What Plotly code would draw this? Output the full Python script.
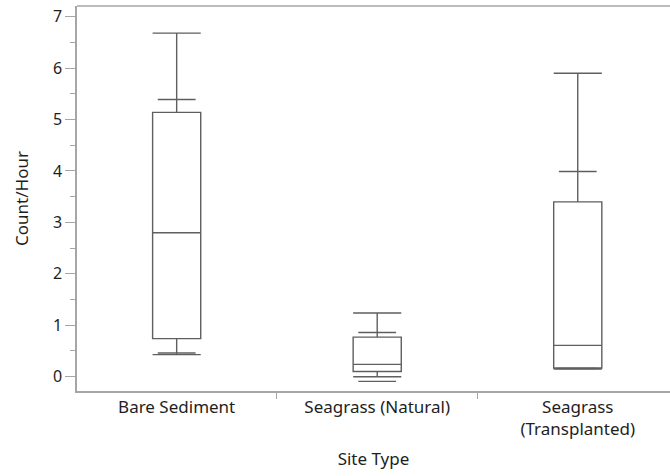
import plotly.graph_objects as go

categories = ["Bare Sediment", "Seagrass (Natural)", "Seagrass<br>(Transplanted)"]
q_min = [0.43, 0.0, 0.15]
q_p10 = [0.46, -0.09, 0.16]
q_q1 = [0.74, 0.10, 0.17]
q_med = [2.80, 0.24, 0.61]
q_q3 = [5.14, 0.77, 3.40]
q_p90 = [5.39, 0.86, 3.99]
q_max = [6.68, 1.24, 5.90]

line_col = "#5f5f5f"
axis_col = "#a6a6a6"
font_fam = "Noto Sans, Open Sans, sans-serif"

fig = go.Figure()
fig.add_trace(go.Box(
    x=categories, q1=q_q1, median=q_med, q3=q_q3,
    lowerfence=q_min, upperfence=q_max,
    width=0.24, whiskerwidth=1,
    fillcolor="rgba(0,0,0,0)",
    line=dict(color=line_col, width=1.4),
    boxpoints=False, hoverinfo="skip", showlegend=False,
))
fig.add_trace(go.Scatter(
    x=categories + categories, y=q_p10 + q_p90, mode="markers",
    marker=dict(symbol="line-ew", size=27, line=dict(color=line_col, width=1.4)),
    hoverinfo="skip", showlegend=False,
))

fig.update_layout(
    width=670, height=476,
    margin=dict(l=77, r=0, t=6, b=85),
    paper_bgcolor="white", plot_bgcolor="white",
    font=dict(family=font_fam, size=17, color="#1e1e1e"),
    xaxis=dict(
        type="category", categoryorder="array", categoryarray=categories,
        range=[-0.497, 2.46], tickson="boundaries",
        ticks="outside", ticklen=6, tickcolor=axis_col, tickwidth=1,
        showline=True, linecolor=axis_col, linewidth=1.5, mirror=False,
        showgrid=False, zeroline=False,
        title=dict(text="Site Type", standoff=14, font=dict(size=17)),
        tickfont=dict(size=17),
    ),
    yaxis=dict(
        range=[-0.278, 7.208], tickmode="linear", tick0=0, dtick=1,
        ticks="outside", ticklen=10, tickcolor=axis_col, tickwidth=1,
        minor=dict(ticks="outside", ticklen=5, tickcolor=axis_col, dtick=0.5, tick0=0),
        showline=True, linecolor=axis_col, linewidth=1.5,
        showgrid=False, zeroline=False,
        title=dict(text="Count/Hour", standoff=20, font=dict(size=17)),
        tickfont=dict(size=16),
    ),
    shapes=[dict(type="line", xref="paper", yref="paper", x0=0, x1=1, y0=1, y1=1,
                 line=dict(color=axis_col, width=1.5))],
)

fig.write_html("out.html")
